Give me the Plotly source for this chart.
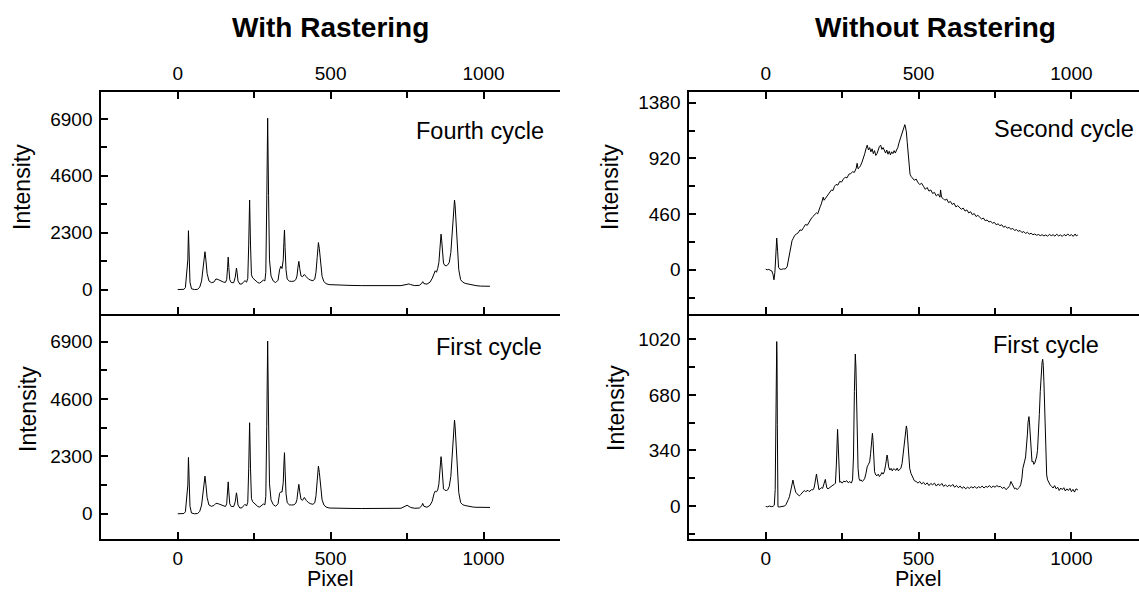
import plotly.graph_objects as go

# ---------------- data ----------------
pixel_r = [0, 10, 20, 25, 28, 31, 33, 35, 37, 40, 45, 55, 65, 72, 78, 83, 86, 89, 92, 96, 102, 110, 118, 125, 133,
           142, 150, 156, 160, 163, 165, 167, 170, 175, 183, 188, 190, 192, 194, 197, 203, 210, 216, 220, 225, 229,
           232, 235, 238, 241, 245, 250, 256, 262, 268, 274, 280, 285, 288, 291, 294, 297, 300, 305, 312, 320, 328,
           333, 337, 341, 345, 347, 349, 351, 354, 358, 365, 372, 380, 386, 390, 393, 396, 399, 403, 408, 414, 420,
           428, 435, 442, 448, 452, 456, 460, 463, 467, 472, 478, 485, 495, 510, 530, 560, 600, 650, 700, 730, 750,
           756, 762, 775, 790, 798, 801, 805, 815, 825, 832, 838, 842, 846, 850, 854, 857, 859, 861, 863, 866, 869,
           873, 878, 883, 888, 893, 897, 901, 903, 905, 907, 910, 914, 919, 925, 932, 940, 950, 958, 965, 975, 990,
           1005, 1021]

raster_fourth = [0, 0, 10, 80, 500, 700, 1200, 2380, 1300, 300, 30, 0, 10, 100, 350, 800, 1200, 1530, 1200, 650, 350,
                 280, 300, 430, 400, 340, 300, 290, 400, 900, 1310, 900, 400, 280, 280, 500, 750, 870, 700, 350, 220,
                 230, 320, 360, 300, 450, 1800, 3620, 1800, 600, 470, 420, 330, 280, 260, 320, 380, 350, 700, 3500,
                 6930, 3800, 1200, 550, 350, 280, 380, 800, 940, 850, 1200, 1900, 2410, 1700, 800, 420, 340, 330, 340,
                 400, 550, 900, 1140, 850, 550, 520, 610, 520, 420, 380, 360, 420, 700, 1300, 1900, 1650, 1000, 530,
                 320, 240, 200, 190, 180, 170, 160, 150, 150, 160, 210, 228, 200, 160, 170, 250, 320, 240, 220, 300,
                 450, 650, 760, 700, 850, 1100, 1600, 2000, 2240, 2000, 1400, 1070, 980, 960, 1000, 1100, 1500, 2300,
                 3200, 3500, 3620, 3400, 2600, 1500, 800, 400, 300, 250, 220, 210, 180, 160, 140, 135, 134]

raster_first = [0, 0, 10, 80, 480, 650, 1150, 2260, 1250, 300, 30, 0, 10, 100, 350, 780, 1180, 1510, 1180, 650, 350,
                300, 330, 420, 400, 350, 300, 290, 400, 880, 1280, 880, 400, 290, 290, 480, 720, 840, 680, 350, 230,
                240, 330, 380, 310, 460, 1800, 3650, 1800, 620, 480, 430, 340, 290, 270, 330, 390, 360, 700, 3500,
                6925, 3800, 1200, 560, 370, 300, 400, 820, 880, 870, 1250, 1950, 2450, 1750, 820, 440, 360, 350, 360,
                420, 580, 920, 1180, 880, 580, 540, 655, 540, 440, 400, 380, 440, 720, 1320, 1910, 1660, 1020, 560,
                350, 270, 230, 220, 214, 215, 210, 205, 215, 220, 340, 300, 250, 220, 230, 320, 415, 300, 260, 340,
                500, 800, 910, 880, 950, 1200, 1700, 2050, 2290, 2050, 1450, 1000, 950, 930, 960, 1100, 1500, 2300,
                3300, 3650, 3760, 3500, 2700, 1550, 850, 450, 360, 330, 300, 290, 270, 260, 260, 250, 254]

pixel_n2 = [0, 5, 10, 15, 20, 24, 27, 30, 33, 36, 39, 42, 46, 52, 58, 64, 70, 74, 78, 82, 86, 90, 95, 100, 106, 112,
            118, 124, 130, 136, 142, 148, 154, 160, 166, 170, 174, 178, 182, 186, 188, 191, 195, 200, 205, 210, 215,
            220, 225, 230, 236, 242, 248, 254, 260, 266, 272, 278, 284, 290, 296, 299, 302, 306, 310, 315, 320, 324,
            328, 332, 336, 340, 344, 348, 352, 356, 360, 364, 368, 372, 376, 380, 384, 388, 392, 396, 400, 404, 408,
            412, 416, 420, 424, 428, 432, 436, 440, 444, 448, 452, 455, 457, 460, 463, 466, 469, 472, 476, 480, 486,
            492, 498, 504, 510, 516, 522, 528, 534, 540, 546, 552, 558, 564, 570, 572, 575, 580, 586, 592, 598, 604,
            610, 616, 622, 628, 634, 640, 646, 652, 658, 664, 670, 676, 682, 688, 694, 700, 706, 712, 718, 724, 730,
            736, 742, 748, 754, 760, 766, 772, 778, 784, 790, 796, 802, 808, 814, 820, 826, 832, 838, 844, 850, 856,
            862, 868, 874, 880, 886, 892, 898, 904, 910, 916, 922, 928, 934, 940, 946, 952, 958, 964, 970, 976, 982,
            988, 994, 1000, 1006, 1012, 1016, 1021]

noraster_second = [5, 0, 3, -2, -10, -40, -83, -20, 120, 262, 150, 20, 5, 3, 8, 6, 25, 80, 150, 200, 240, 260, 285,
                   295, 305, 330, 325, 350, 375, 368, 400, 420, 440, 455, 470, 462, 500, 520, 545, 580, 600, 575, 590,
                   605, 620, 640, 660, 655, 690, 705, 700, 730, 725, 750, 765, 760, 790, 795, 810, 805, 840, 880, 835,
                   845, 860, 890, 920, 960, 1000, 1030, 990, 1010, 975, 1000, 960, 985, 945, 960, 990, 1020, 1030, 995,
                   1010, 980, 965, 990, 955, 980, 950, 975, 960, 985, 965, 990, 1010, 1050, 1080, 1100, 1140, 1160,
                   1200, 1180, 1140, 1050, 950, 860, 790, 770, 760, 740, 750, 720, 705, 715, 690, 665, 680, 650, 660,
                   630, 640, 610, 625, 600, 660, 600, 590, 575, 585, 555, 565, 540, 550, 520, 530, 510, 500, 510, 485,
                   495, 470, 480, 455, 465, 440, 450, 430, 420, 428, 405, 412, 395, 400, 385, 392, 372, 380, 365, 372,
                   352, 360, 345, 350, 335, 342, 325, 332, 318, 325, 308, 316, 300, 310, 295, 302, 290, 296, 285, 292,
                   282, 290, 280, 288, 278, 292, 282, 290, 278, 294, 280, 288, 276, 292, 280, 296, 282, 290, 276, 296,
                   280, 288]

pixel_n1 = [0, 6, 12, 18, 24, 28, 31, 33, 35, 36, 37, 38, 39, 40, 44, 50, 56, 62, 66, 70, 74, 78, 82, 86, 89, 92, 95,
            98, 102, 106, 110, 114, 118, 122, 126, 130, 134, 138, 142, 146, 150, 154, 158, 161, 164, 166, 168, 171,
            174, 178, 182, 186, 190, 193, 195, 197, 200, 204, 208, 212, 216, 220, 224, 228, 231, 233, 235, 237, 239,
            242, 246, 250, 255, 260, 265, 270, 275, 280, 284, 287, 290, 292, 293, 295, 297, 299, 302, 305, 308, 312,
            316, 320, 324, 328, 332, 336, 340, 343, 346, 349, 351, 353, 356, 360, 364, 368, 372, 376, 380, 384, 388,
            392, 395, 397, 399, 402, 406, 410, 414, 418, 422, 426, 430, 434, 438, 442, 446, 450, 454, 457, 460, 462,
            465, 468, 471, 475, 480, 486, 492, 498, 504, 510, 516, 522, 528, 534, 540, 546, 552, 558, 564, 570, 576,
            582, 588, 594, 600, 606, 612, 618, 624, 630, 636, 642, 648, 654, 660, 666, 672, 678, 684, 690, 696, 702,
            708, 714, 720, 726, 732, 738, 744, 750, 756, 762, 768, 774, 780, 786, 792, 798, 802, 806, 810, 814, 818,
            822, 826, 830, 834, 838, 841, 844, 847, 850, 853, 856, 858, 860, 861, 862, 864, 866, 868, 871, 874, 877,
            880, 883, 886, 889, 892, 895, 898, 901, 904, 906, 908, 910, 912, 914, 916, 919, 922, 926, 930, 935, 940,
            945, 950, 955, 960, 965, 970, 975, 980, 985, 990, 995, 1000, 1005, 1010, 1015, 1021]

noraster_first = [-3, -5, 0, -4, -2, 5, 100, 500, 900, 1006, 900, 500, 100, -4, -6, -3, -2, 0, 8, 20, 40, 60, 90, 130,
                  159, 130, 100, 85, 75, 68, 62, 70, 80, 92, 95, 88, 92, 96, 88, 95, 100, 98, 110, 140, 180, 196, 170,
                  120, 100, 105, 112, 108, 130, 160, 163, 140, 110, 105, 112, 118, 122, 128, 132, 140, 250, 400, 469,
                  380, 230, 145, 150, 140, 152, 148, 155, 142, 150, 140, 160, 300, 700, 900, 930, 850, 600, 380, 230,
                  170, 155, 160, 150, 158, 170, 200, 240, 255, 270, 320, 410, 445, 400, 300, 210, 190, 185, 195, 180,
                  190, 205, 195, 210, 250, 300, 312, 290, 240, 220, 230, 215, 228, 224, 218, 232, 215, 225, 230, 260,
                  320, 400, 460, 490, 470, 400, 300, 230, 200, 175, 155, 150, 140, 150, 135, 145, 130, 142, 125, 138,
                  130, 140, 122, 135, 125, 138, 120, 130, 118, 128, 120, 132, 115, 126, 112, 122, 108, 118, 105, 115,
                  108, 118, 110, 120, 108, 118, 112, 122, 110, 120, 115, 125, 112, 122, 115, 125, 118, 120, 108, 115,
                  100, 110, 125, 150, 135, 115, 105, 110, 100, 108, 115, 130, 170, 230, 265, 275, 300, 360, 440, 510,
                  540, 547, 530, 460, 380, 320, 270, 275, 255, 262, 280, 300, 340, 420, 560, 700, 820, 880, 898, 860,
                  760, 600, 420, 280, 190, 160, 140, 130, 120, 110, 125, 105, 115, 95, 110, 100, 112, 92, 105, 95, 108,
                  88, 102, 85, 105, 98]

col_titles = ["With Rastering", "Without Rastering"]
panel_labels = ["Fourth cycle", "First cycle", "Second cycle", "First cycle"]
x_ticks = [0, 500, 1000]
y_ticks_raster = [0, 2300, 4600, 6900]
y_ticks_n2 = [0, 460, 920, 1380]
y_ticks_n1 = [0, 340, 680, 1020]

# ---------------- layout geometry ----------------
W, H = 1139, 592
FONT = "Arial, Liberation Sans, sans-serif"


def px_x(p):
    return p / W


def px_y(p):
    return 1 - p / H


left_dom = [px_x(101.3), px_x(560)]
right_dom = [px_x(689.3), 1.0]
top_dom = [px_y(314.3), px_y(91.7)]
bot_dom = [px_y(538.7), px_y(314.3)]

fig = go.Figure()
line = dict(color="black", width=1)
fig.add_trace(go.Scatter(x=pixel_r, y=raster_fourth, mode="lines", line=line, xaxis="x", yaxis="y"))
fig.add_trace(go.Scatter(x=pixel_r, y=raster_first, mode="lines", line=line, xaxis="x2", yaxis="y2"))
fig.add_trace(go.Scatter(x=pixel_n2, y=noraster_second, mode="lines", line=line, xaxis="x3", yaxis="y3"))
fig.add_trace(go.Scatter(x=pixel_n1, y=noraster_first, mode="lines", line=line, xaxis="x4", yaxis="y4"))

tickfont = dict(family=FONT, size=19, color="black")
common = dict(showgrid=False, zeroline=False, showline=True, linecolor="black", linewidth=2,
              ticks="inside", ticklen=7, tickwidth=1.5, tickcolor="black", tickfont=tickfont)


def minor(dt):
    return dict(ticks="inside", ticklen=6, tickwidth=1.5, tickcolor="black", dtick=dt, tick0=0)


def xax(dom, anchor, side, rng, mirror, standoff):
    return dict(common, domain=dom, anchor=anchor, side=side, range=rng, tickvals=x_ticks,
                mirror=mirror, ticklabelstandoff=standoff, minor=minor(250))


def yax(dom, anchor, rng, tickvals, minor_dtick, standoff=0):
    return dict(common, domain=dom, anchor=anchor, range=rng, tickvals=tickvals, mirror=False,
                ticklabelstandoff=standoff, minor=minor(minor_dtick))


def yright(overlay, anchor, rng, tickvals, minor_dtick):
    return dict(common, overlaying=overlay, anchor=anchor, side="right", range=rng, tickvals=tickvals,
                showticklabels=False, minor=minor(minor_dtick))


fig.update_layout(
    width=W, height=H, autosize=False,
    margin=dict(l=0, r=0, t=0, b=0),
    paper_bgcolor="white", plot_bgcolor="white",
    showlegend=False,
    xaxis=xax(left_dom, "y", "top", [-250, 1250], "ticks", 2),
    yaxis=yax(top_dom, "x", [-1000, 8000], y_ticks_raster, 1150, 3),
    xaxis2=xax(left_dom, "y2", "bottom", [-250, 1250], False, 1),
    yaxis2=yax(bot_dom, "x2", [-1000, 8000], y_ticks_raster, 1150, 3),
    xaxis3=xax(right_dom, "y3", "top", [-250, 1221], "ticks", 2),
    yaxis3=yax(top_dom, "x3", [-368, 1472], y_ticks_n2, 230, 3),
    xaxis4=xax(right_dom, "y4", "bottom", [-250, 1221], False, 1),
    yaxis4=yax(bot_dom, "x4", [-200, 1173], y_ticks_n1, 170, 3),
    yaxis5=yright("y", "x", [-1000, 8000], y_ticks_raster, 1150),
    yaxis6=yright("y2", "x2", [-1000, 8000], y_ticks_raster, 1150),
)

ann = []
for t, xx in zip(col_titles, [330.6, 935]):
    ann.append(dict(text="<b>" + t + "</b>", x=px_x(xx), y=px_y(28), xanchor="center", yanchor="middle",
                    font=dict(family=FONT, size=28, color="black")))
for (xx, yy) in [(22, 187), (28, 409), (610, 187), (616, 408)]:
    ann.append(dict(text="Intensity", x=px_x(xx), y=px_y(yy), xanchor="center", yanchor="middle",
                    textangle=-90, font=dict(family=FONT, size=23, color="black")))
for xx in [330.6, 918.6]:
    ann.append(dict(text="Pixel", x=px_x(xx), y=0, xanchor="center", yanchor="bottom", borderpad=0,
                    font=dict(family=FONT, size=21.5, color="black")))
for lab, (xx, yy) in zip(panel_labels, [(546, 131), (544, 347), (1136, 129), (1101, 345)]):
    ann.append(dict(text=lab, x=px_x(xx), y=px_y(yy), xanchor="right", yanchor="middle",
                    font=dict(family=FONT, size=23.5, color="black")))
for a in ann:
    a.update(xref="paper", yref="paper", showarrow=False)
fig.update_layout(annotations=ann)

fig.write_html("out.html", config={"displayModeBar": False},
               post_script="document.body.style.margin='0';document.body.style.overflow='hidden';")
